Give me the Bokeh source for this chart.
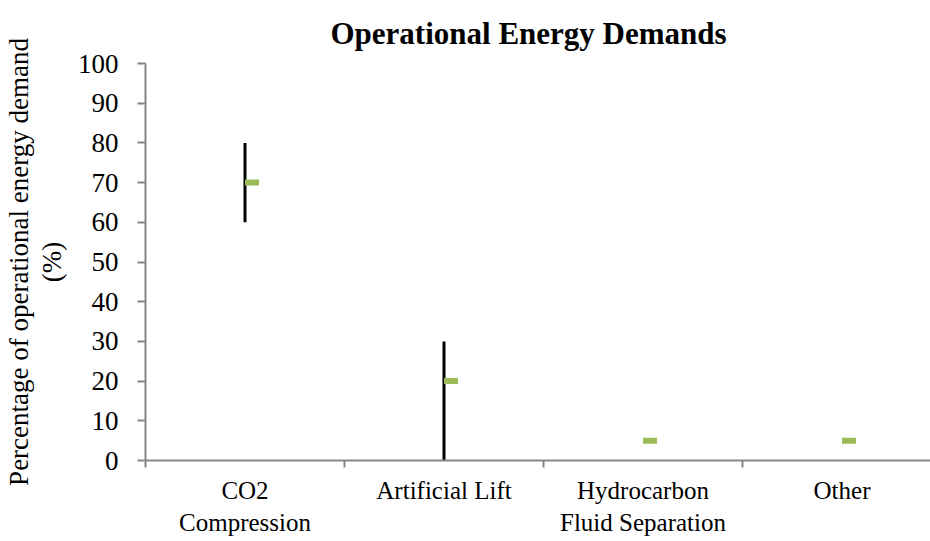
import math
from bokeh.plotting import figure
from bokeh.models import Range1d, FixedTicker, ColumnDataSource
from bokeh.transform import dodge
from bokeh.embed import file_html
from bokeh.resources import INLINE

categories = ["CO2\nCompression", "Artificial Lift", "Hydrocarbon\nFluid Separation", "Other"]
high = [80, 30, float("nan"), float("nan")]
low = [60, 0, float("nan"), float("nan")]
close = [70, 20, 5, 5]
y_ticks = [0, 10, 20, 30, 40, 50, 60, 70, 80, 90, 100]

x = [i + 0.5 for i in range(len(categories))]
src = ColumnDataSource(dict(x=x, high=high, low=low, close=close))

FONT = "Liberation Serif"
W, H = 930, 541
LEFT, TOP, BOTTOM = 145, 63, 81
frame_w = W - LEFT
cat_px = 199.0

p = figure(width=W, height=H, output_backend="svg", toolbar_location=None,
           x_range=Range1d(0, frame_w / cat_px), y_range=Range1d(0, 100),
           min_border_left=LEFT, min_border_right=0, min_border_top=TOP, min_border_bottom=BOTTOM)
p.outline_line_color = None
p.grid.visible = False

p.title.text = "Operational Energy Demands"
p.title.align = "left"
p.title.offset = 185
p.title.text_font = FONT
p.title.text_font_size = "31px"
p.title.text_font_style = "bold"
p.title.text_color = "black"
p.title.standoff = 25

axis_color = "#868686"
# x axis
p.xaxis.ticker = FixedTicker(ticks=x, minor_ticks=[0, 1, 2, 3])
p.xaxis.major_label_overrides = {xx: c for xx, c in zip(x, categories)}
p.xaxis.major_tick_out = 0
p.xaxis.major_tick_in = 0
p.xaxis.minor_tick_out = 7
p.xaxis.minor_tick_in = 0
p.xaxis.minor_tick_line_color = axis_color
p.xaxis.axis_line_color = axis_color
p.xaxis.axis_line_width = 2
p.xaxis.minor_tick_line_width = 2
p.xaxis.major_label_text_font = FONT
p.xaxis.major_label_text_font_size = "25px"
p.xaxis.major_label_text_color = "black"
p.xaxis.major_label_standoff = 9

# y axis
p.yaxis.ticker = FixedTicker(ticks=y_ticks, minor_ticks=[])
p.yaxis.major_tick_out = 8
p.yaxis.major_tick_in = 0
p.yaxis.major_tick_line_color = axis_color
p.yaxis.major_tick_line_width = 2
p.yaxis.axis_line_color = axis_color
p.yaxis.axis_line_width = 2
p.yaxis.major_label_text_font = FONT
p.yaxis.major_label_text_font_size = "27px"
p.yaxis.major_label_text_color = "black"
p.yaxis.major_label_standoff = 19
p.yaxis.axis_label = "Percentage of operational energy demand\n(%)"
p.yaxis.axis_label_text_font = FONT
p.yaxis.axis_label_text_font_size = "27px"
p.yaxis.axis_label_text_font_style = "normal"
p.yaxis.axis_label_text_color = "black"
p.yaxis.axis_label_text_line_height = 1.1
p.yaxis.axis_label_standoff = 8

p.segment(x0="x", y0="low", x1="x", y1="high", source=src, line_color="black", line_width=3)
p.rect(x=dodge("x", 7 / cat_px), y="close", width=14, height=6,
       width_units="screen", height_units="screen", source=src,
       fill_color="#9BBB59", line_color=None)

open("out.html", "w").write(file_html(p, INLINE))
